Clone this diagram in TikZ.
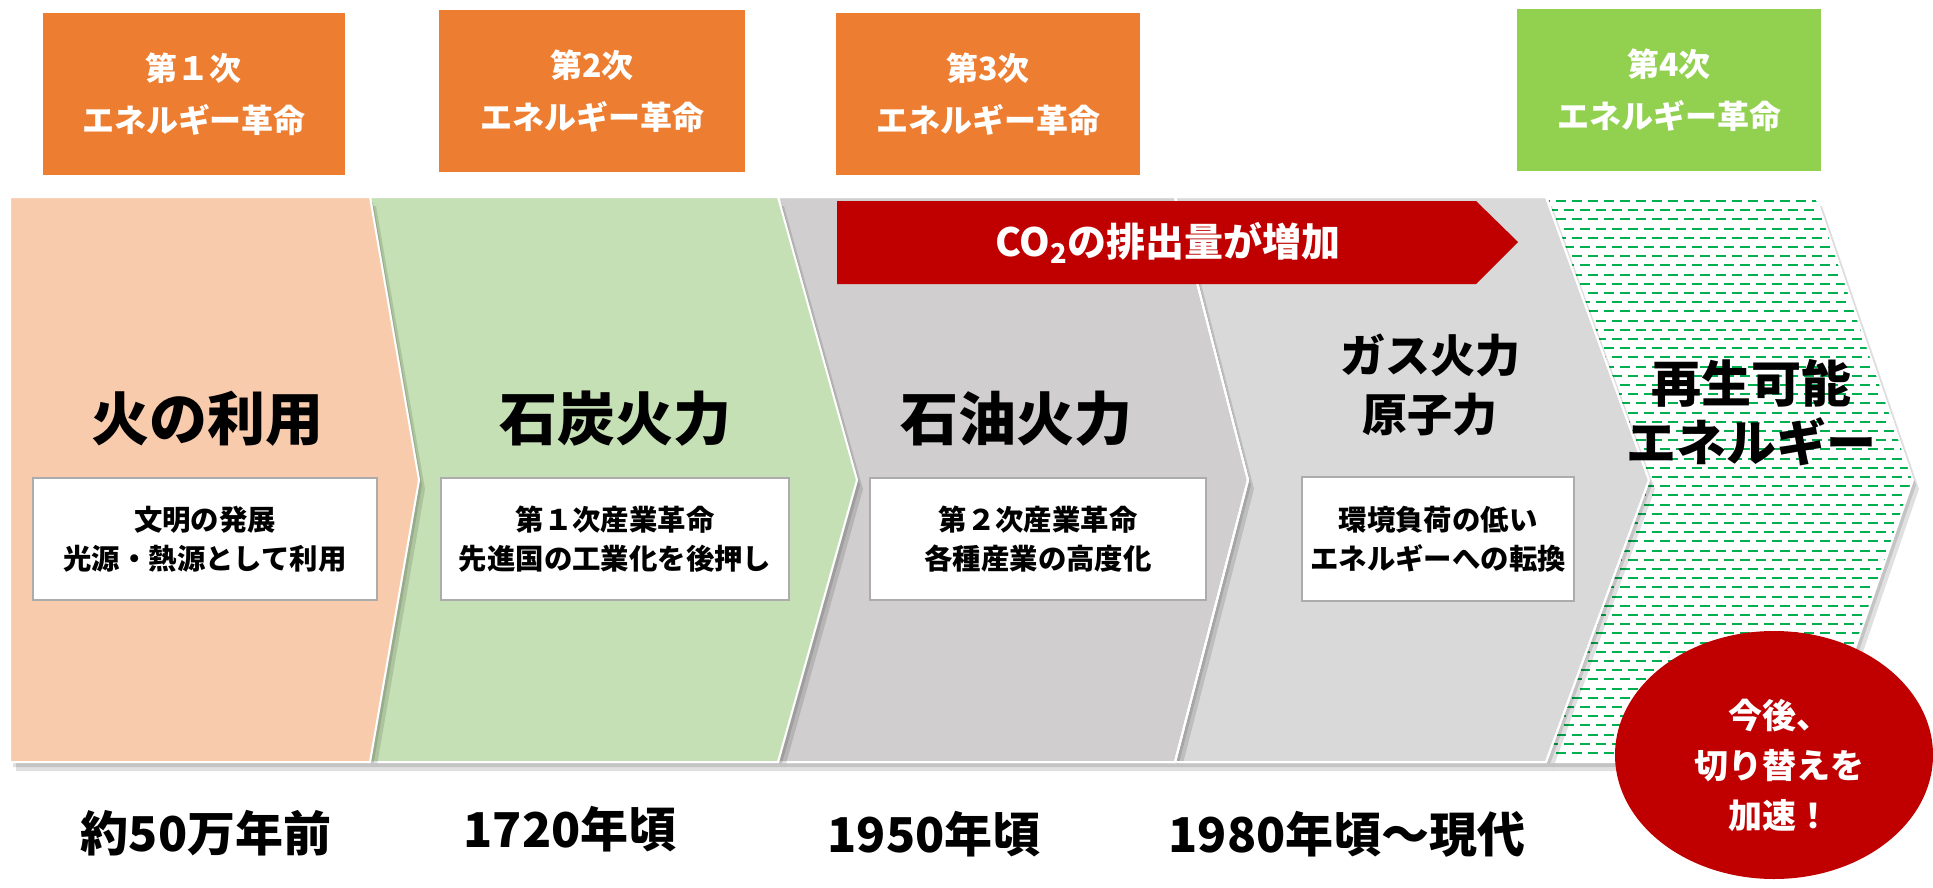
\documentclass[tikz,border=0pt]{standalone}
\usepackage{fontspec}
\setmainfont{Noto Sans CJK JP}
\usetikzlibrary{shapes.geometric}
\definecolor{orng}{HTML}{ED7D31}
\definecolor{lgreen}{HTML}{92D050}
\definecolor{peach}{HTML}{F8CBAD}
\definecolor{mint}{HTML}{C5E0B4}
\definecolor{grayA}{HTML}{D0CECE}
\definecolor{grayB}{HTML}{D9D9D9}
\definecolor{dred}{HTML}{C00000}
\definecolor{hgreen}{HTML}{00B050}
\tikzset{
  obox/.style={fill=orng, text=white, font=\bfseries\fontsize{16}{26}\selectfont, align=center, minimum width=151pt, minimum height=81pt, inner sep=0pt},
  wbox/.style={fill=white, draw=gray!65, line width=0.8pt, font=\bfseries\fontsize{14.2}{19.5}\selectfont, align=center, minimum height=61pt, inner sep=0pt},
  title/.style={font=\bfseries\fontsize{29}{34}\selectfont, align=center, inner sep=0pt},
  date/.style={font=\bfseries\fontsize{24}{28}\selectfont, inner sep=0pt},
  chev/.style={draw=white, line width=1pt, line join=miter},
  shad/.style={fill=black, opacity=0.12},
}
\def\chA{(10,197) -- (370,197) -- (419,480) -- (370,762) -- (10,762) -- cycle}
\def\chB{(370,197) -- (778,197) -- (857,480) -- (778,762) -- (370,762) -- (419,480) -- cycle}
\def\chC{(778,197) -- (1175,197) -- (1248,480) -- (1175,762) -- (778,762) -- (857,480) -- cycle}
\def\chD{(1175,197) -- (1546,197) -- (1649,480) -- (1546,762) -- (1175,762) -- (1248,480) -- cycle}
\def\chE{(1546,197) -- (1816,197) -- (1913,480) -- (1816,762) -- (1546,762) -- (1649,480) -- cycle}
\begin{document}
\begin{tikzpicture}[x=0.5pt,y=-0.5pt]
\useasboundingbox (0,0) rectangle (1933,888);
\fill[white] (0,0) rectangle (1933,888);
% chevron 5 (hatched)
\begin{scope}[shift={(3,5)}]\fill[shad] \chE;\end{scope}
\begin{scope}[shift={(6,9)}]\fill[shad] \chE;\end{scope}
\fill[white] \chE;
\begin{scope}
  \clip \chE;
  \foreach \i in {0,...,62} {
    \pgfmathsetmacro\yy{201+\i*9.2}
    \pgfmathsetmacro\ph{mod(\i,2)*4}
    \draw[hgreen, line width=1pt, dash pattern=on 5pt off 3pt, dash phase=\ph pt] (1540,\yy) -- (1925,\yy);
  }
\end{scope}
\draw[chev] \chE;
% chevron 4
\begin{scope}[shift={(3,5)}]\fill[shad] \chD;\end{scope}
\begin{scope}[shift={(6,9)}]\fill[shad] \chD;\end{scope}
\fill[grayB, chev] \chD;
% chevron 3
\begin{scope}[shift={(3,5)}]\fill[shad] \chC;\end{scope}
\begin{scope}[shift={(6,9)}]\fill[shad] \chC;\end{scope}
\fill[grayA, chev] \chC;
\draw[chev] \chC;
% chevron 2
\begin{scope}[shift={(3,5)}]\fill[shad] \chB;\end{scope}
\begin{scope}[shift={(6,9)}]\fill[shad] \chB;\end{scope}
\fill[mint] \chB;
\draw[chev] \chB;
% chevron 1
\begin{scope}[shift={(3,5)}]\fill[shad] \chA;\end{scope}
\begin{scope}[shift={(6,9)}]\fill[shad] \chA;\end{scope}
\fill[peach] \chA;
\draw[chev] \chA;
\draw[chev] \chD;

% top boxes
\node[obox, minimum width=151pt] (r1) at (194,94) {第１次\\エネルギー革命};
\node[obox, minimum width=153pt] (r2) at (592,91) {第2次\\エネルギー革命};
\node[obox, minimum width=152pt] (r3) at (988,94) {第3次\\エネルギー革命};
\node[obox, fill=lgreen, minimum width=152pt] (r4) at (1669,90) {第4次\\エネルギー革命};

% CO2 arrow
\fill[dred] (837,201) -- (1476,201) -- (1518,242) -- (1476,284) -- (837,284) -- cycle;
\node[text=white, font=\bfseries\fontsize{19.5}{22}\selectfont, inner sep=0pt] (co2) at (1168,243) {CO\textsubscript{2}の排出量が増加};

% titles
\node[title] (t1) at (207,419) {火の利用};
\node[title] (t2) at (615,419) {石炭火力};
\node[title] (t3) at (1016,419) {石油火力};
\node[title, font=\bfseries\fontsize{22.5}{29.5}\selectfont] (t4) at (1430,385) {ガス火力\\原子力};
\node[title, font=\bfseries\fontsize{25}{29.5}\selectfont] (t5) at (1751,413) {再生可能\\エネルギー};

% white boxes
\node[wbox, minimum width=172pt] (b1) at (205,539) {文明の発展\\光源・熱源として利用};
\node[wbox, minimum width=174pt] (b2) at (615,539) {第１次産業革命\\先進国の工業化を後押し};
\node[wbox, minimum width=168pt] (b3) at (1038,539) {第２次産業革命\\各種産業の高度化};
\node[wbox, minimum width=136pt, minimum height=62pt] (b4) at (1438,539) {環境負荷の低い\\エネルギーへの転換};

% dates
\node[date] (d1) at (206,833) {約50万年前};
\node[date] (d2) at (570,829) {1720年頃};
\node[date] (d3) at (934,834) {1950年頃};
\node[date] (d4) at (1347,834) {1980年頃～現代};

% ellipse
\node[ellipse, fill=dred, minimum width=159pt, minimum height=124pt, inner sep=0pt] (el) at (1774,755) {};
\node[text=white, font=\bfseries\fontsize{17}{25}\selectfont, align=center, inner sep=0pt] (elt) at (1779,765) {今後、\\切り替えを\\加速！};
\end{tikzpicture}
\end{document}
